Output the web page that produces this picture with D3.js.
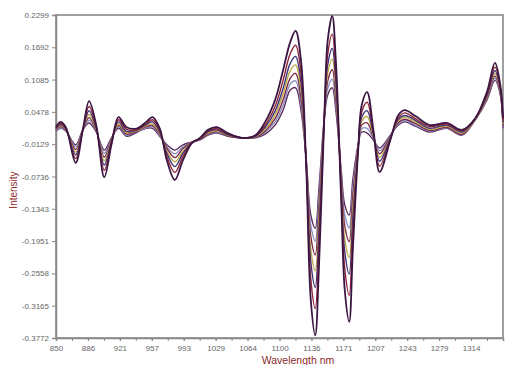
<!DOCTYPE html>
<html>
<head>
<meta charset="utf-8">
<script src="https://cdn.jsdelivr.net/npm/d3@7"></script>
<style>
  body { margin: 0; background: #fff; }
  svg { display: block; font-family: "Liberation Sans", Arial, sans-serif; }
</style>
</head>
<body>
<div id="chart"></div>
<script>
// wavelengths (nm) shared by all spectra
const wavelengths = [850, 855, 861, 872, 880, 887, 895, 904, 912, 920, 929, 941, 951, 958, 966, 974, 983, 992, 1002, 1011,
  1020, 1030, 1042, 1058, 1073, 1084, 1095, 1104, 1112, 1118, 1124, 1130, 1135, 1140, 1144, 1150, 1154, 1159, 1163, 1169,
  1173, 1178, 1182, 1188, 1192, 1198, 1205, 1212, 1224, 1233, 1240, 1252, 1268, 1287, 1304, 1319, 1332, 1341, 1347, 1350];

const s1 = [0.019, 0.029, 0.019, -0.048, 0.014, 0.068, 0.023, -0.075, -0.014, 0.038, 0.019, 0.017, 0.029, 0.038, 0.017, -0.043, -0.080, -0.043, -0.011, -0.001,
  0.014, 0.019, 0.008, -0.001, 0.004, 0.029, 0.070, 0.126, 0.179, 0.200, 0.145, -0.061, -0.306, -0.372, -0.250, 0.033, 0.183, 0.228, 0.145, -0.118,
  -0.287, -0.347, -0.212, -0.024, 0.061, 0.085, 0.014, -0.065, -0.005, 0.042, 0.051, 0.040, 0.023, 0.027, 0.014, 0.036, 0.085, 0.140, 0.098, 0.036];
const s2 = [0.017, 0.026, 0.017, -0.040, 0.014, 0.058, 0.020, -0.062, -0.011, 0.033, 0.015, 0.015, 0.026, 0.033, 0.013, -0.036, -0.066, -0.036, -0.010, -0.002,
  0.012, 0.016, 0.007, -0.001, 0.003, 0.023, 0.058, 0.107, 0.157, 0.173, 0.122, -0.057, -0.266, -0.322, -0.212, 0.033, 0.157, 0.194, 0.122, -0.104,
  -0.247, -0.297, -0.179, -0.022, 0.048, 0.066, 0.009, -0.054, -0.003, 0.037, 0.046, 0.035, 0.020, 0.025, 0.012, 0.035, 0.081, 0.132, 0.094, 0.031];
const s3 = [0.016, 0.024, 0.016, -0.033, 0.014, 0.050, 0.017, -0.052, -0.008, 0.029, 0.011, 0.014, 0.024, 0.029, 0.010, -0.030, -0.055, -0.030, -0.010, -0.003,
  0.010, 0.014, 0.005, -0.001, 0.002, 0.019, 0.049, 0.092, 0.139, 0.152, 0.103, -0.053, -0.234, -0.282, -0.182, 0.033, 0.137, 0.167, 0.103, -0.092,
  -0.215, -0.257, -0.153, -0.020, 0.038, 0.050, 0.006, -0.045, -0.001, 0.034, 0.041, 0.032, 0.017, 0.023, 0.010, 0.035, 0.078, 0.125, 0.090, 0.028];
const s4 = [0.015, 0.022, 0.015, -0.028, 0.014, 0.043, 0.015, -0.044, -0.006, 0.025, 0.009, 0.013, 0.022, 0.025, 0.008, -0.026, -0.046, -0.026, -0.010, -0.003,
  0.008, 0.012, 0.004, -0.001, 0.001, 0.015, 0.042, 0.081, 0.125, 0.136, 0.089, -0.050, -0.210, -0.251, -0.159, 0.033, 0.121, 0.147, 0.089, -0.084,
  -0.191, -0.226, -0.133, -0.018, 0.030, 0.039, 0.003, -0.038, 0.000, 0.031, 0.038, 0.029, 0.015, 0.021, 0.008, 0.034, 0.076, 0.120, 0.087, 0.025];
const s5 = [0.014, 0.020, 0.014, -0.023, 0.014, 0.037, 0.013, -0.037, -0.004, 0.022, 0.006, 0.012, 0.020, 0.022, 0.006, -0.021, -0.038, -0.021, -0.009, -0.004,
  0.006, 0.011, 0.003, -0.001, 0.000, 0.012, 0.035, 0.070, 0.111, 0.120, 0.074, -0.047, -0.186, -0.221, -0.137, 0.033, 0.106, 0.127, 0.074, -0.075,
  -0.167, -0.196, -0.113, -0.016, 0.023, 0.027, 0.000, -0.031, 0.002, 0.028, 0.034, 0.026, 0.013, 0.019, 0.006, 0.034, 0.074, 0.115, 0.084, 0.022];
const s6 = [0.013, 0.018, 0.013, -0.018, 0.014, 0.032, 0.012, -0.030, -0.003, 0.020, 0.004, 0.011, 0.018, 0.020, 0.004, -0.018, -0.031, -0.018, -0.009, -0.005,
  0.005, 0.009, 0.003, -0.001, 0.000, 0.009, 0.029, 0.060, 0.100, 0.106, 0.062, -0.045, -0.165, -0.195, -0.117, 0.033, 0.092, 0.109, 0.062, -0.068,
  -0.146, -0.170, -0.096, -0.015, 0.016, 0.017, -0.003, -0.025, 0.003, 0.025, 0.032, 0.023, 0.012, 0.018, 0.005, 0.033, 0.072, 0.111, 0.082, 0.019];
const s7 = [0.012, 0.017, 0.012, -0.014, 0.014, 0.027, 0.010, -0.024, -0.001, 0.017, 0.002, 0.010, 0.017, 0.017, 0.002, -0.014, -0.024, -0.014, -0.009, -0.005,
  0.004, 0.008, 0.002, -0.001, -0.001, 0.006, 0.023, 0.051, 0.089, 0.093, 0.051, -0.043, -0.146, -0.171, -0.099, 0.033, 0.080, 0.093, 0.051, -0.061,
  -0.127, -0.146, -0.080, -0.014, 0.010, 0.008, -0.005, -0.020, 0.004, 0.023, 0.029, 0.021, 0.010, 0.017, 0.004, 0.033, 0.070, 0.107, 0.080, 0.017];

const seriesList = [s7, s6, s5, s4, s3, s2, s1];
const seriesColors = ['#5a2a5e', '#8a90c0', '#7a2848', '#c0a848', '#3a3478', '#8e2438', '#3b1642'];

const xTickValues = [850, 885.71, 921.43, 957.14, 992.86, 1028.57, 1064.29, 1100, 1135.71, 1171.43, 1207.14, 1242.86, 1278.57, 1314.29];
const xTickLabels = ['850', '886', '921', '957', '993', '1029', '1064', '1100', '1136', '1171', '1207', '1243', '1279', '1314'];
const yTickValues = [0.2299, 0.1692, 0.1085, 0.0478, -0.0129, -0.0736, -0.1343, -0.1951, -0.2558, -0.3165, -0.3772];
const yTickLabels = ['0.2299', '0.1692', '0.1085', '0.0478', '-0.0129', '-0.0736', '-0.1343', '-0.1951', '-0.2558', '-0.3165', '-0.3772'];

const width = 505, height = 365;
const margin = { top: 15, right: 2, bottom: 27, left: 56 };
const innerW = width - margin.left - margin.right;
const innerH = height - margin.top - margin.bottom;

const svg = d3.select('#chart').append('svg')
  .attr('width', width)
  .attr('height', height);

const g = svg.append('g')
  .attr('transform', `translate(${margin.left},${margin.top})`);

const x = d3.scaleLinear().domain([850, 1350]).range([0, innerW]);
const y = d3.scaleLinear().domain([-0.3772, 0.2299]).range([innerH, 0]);

// frame
g.append('rect')
  .attr('width', innerW)
  .attr('height', innerH)
  .attr('fill', 'none')
  .attr('stroke', '#a0a0a0')
  .attr('stroke-width', 2);

// y axis
const yAxis = g.append('g')
  .call(d3.axisLeft(y).tickValues(yTickValues).tickSize(4).tickFormat((d, i) => yTickLabels[i]));
yAxis.select('.domain').attr('stroke', '#888').attr('stroke-width', 1.5);
yAxis.selectAll('.tick line').attr('stroke', '#888');
yAxis.selectAll('text').attr('fill', '#666').style('font-size', '8px');

// x axis with minor ticks
const minorTicks = d3.range(850 + 500 / 28, 1350, 500 / 28);
g.append('g')
  .attr('transform', `translate(0,${innerH})`)
  .call(d3.axisBottom(x).tickValues(minorTicks).tickSize(3).tickFormat(''))
  .call(a => a.select('.domain').remove())
  .selectAll('.tick line').attr('stroke', '#888');

const xAxis = g.append('g')
  .attr('transform', `translate(0,${innerH})`)
  .call(d3.axisBottom(x).tickValues(xTickValues).tickSize(3).tickPadding(4).tickFormat((d, i) => xTickLabels[i]));
xAxis.select('.domain').attr('stroke', '#888').attr('stroke-width', 1.5);
xAxis.selectAll('.tick line').attr('stroke', '#888');
xAxis.selectAll('text').attr('fill', '#666').style('font-size', '8px');

// spectra
const line = d3.line()
  .x((d, i) => x(wavelengths[i]))
  .y(d => y(d))
  .curve(d3.curveCatmullRom.alpha(0.5));

g.append('g')
  .selectAll('path')
  .data(seriesList)
  .enter()
  .append('path')
  .attr('d', d => line(d))
  .attr('fill', 'none')
  .attr('stroke', (d, i) => seriesColors[i])
  .attr('stroke-width', (d, i) => i === seriesList.length - 1 ? 1.8 : 1.4);

// axis titles
svg.append('text')
  .attr('transform', 'translate(17,190) rotate(-90)')
  .attr('text-anchor', 'middle')
  .attr('fill', '#8b2a2a')
  .style('font-size', '10px')
  .text('Intensity');

svg.append('text')
  .attr('x', 298)
  .attr('y', 364)
  .attr('text-anchor', 'middle')
  .attr('fill', '#8b2a2a')
  .style('font-size', '10.5px')
  .text('Wavelength nm');
</script>
</body>
</html>
